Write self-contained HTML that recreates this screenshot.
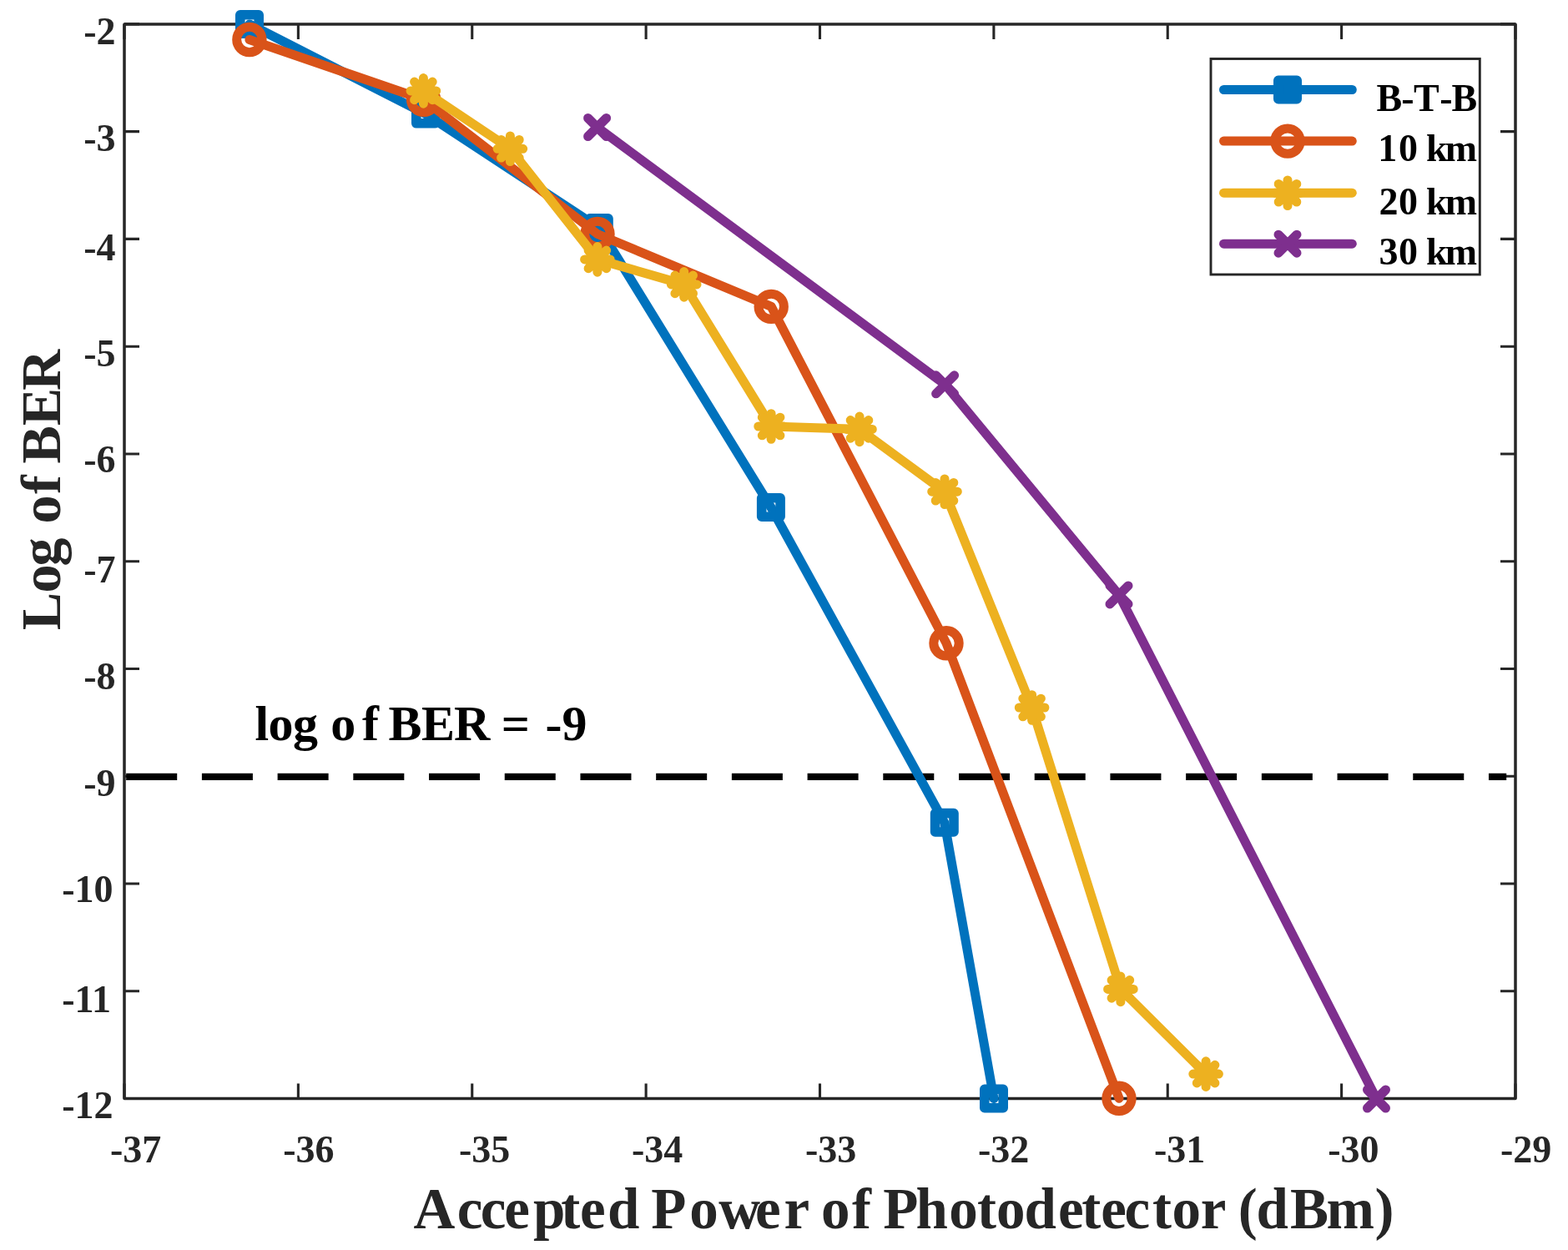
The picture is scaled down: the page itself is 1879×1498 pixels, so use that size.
<!DOCTYPE html>
<html><head><meta charset="utf-8"><title>BER vs Received Power</title>
<style>html,body{margin:0;padding:0;background:#fff;}svg{display:block;}</style>
</head><body>
<svg width="1879" height="1498" viewBox="0 0 1879 1498">
<rect x="0" y="0" width="1879" height="1498" fill="#ffffff"/>
<path d="M149.00 1316.50V1298.50M149.00 28.90V46.90M357.38 1316.50V1298.50M357.38 28.90V46.90M565.75 1316.50V1298.50M565.75 28.90V46.90M774.12 1316.50V1298.50M774.12 28.90V46.90M982.50 1316.50V1298.50M982.50 28.90V46.90M1190.88 1316.50V1298.50M1190.88 28.90V46.90M1399.25 1316.50V1298.50M1399.25 28.90V46.90M1607.62 1316.50V1298.50M1607.62 28.90V46.90M1816.00 1316.50V1298.50M1816.00 28.90V46.90M149.00 28.90H167.00M1816.00 28.90H1798.00M149.00 157.66H167.00M1816.00 157.66H1798.00M149.00 286.42H167.00M1816.00 286.42H1798.00M149.00 415.18H167.00M1816.00 415.18H1798.00M149.00 543.94H167.00M1816.00 543.94H1798.00M149.00 672.70H167.00M1816.00 672.70H1798.00M149.00 801.46H167.00M1816.00 801.46H1798.00M149.00 930.22H167.00M1816.00 930.22H1798.00M149.00 1058.98H167.00M1816.00 1058.98H1798.00M149.00 1187.74H167.00M1816.00 1187.74H1798.00M149.00 1316.50H167.00M1816.00 1316.50H1798.00" stroke="#262626" stroke-width="3.1" fill="none" stroke-linecap="butt"/>
<rect x="149.0" y="28.9" width="1667.0" height="1287.6" fill="none" stroke="#262626" stroke-width="3.5" stroke-linejoin="round"/>
<line x1="151.2" y1="930.8" x2="1805.2" y2="930.8" stroke="#000" stroke-width="8.3" stroke-dasharray="61 29.71" stroke-linecap="butt"/>
<path d="M299.0 29.0L510.0 136.6L717.8 273.0L923.9 608.0L1131.8 985.8L1191.0 1316.5" stroke="#0072BD" stroke-width="11" fill="none" stroke-linejoin="round" stroke-linecap="round"/>
<rect x="287.8" y="17.8" width="22.4" height="22.4" fill="none" stroke="#0072BD" stroke-width="11.6" stroke-linejoin="round"/>
<rect x="498.8" y="125.4" width="22.4" height="22.4" fill="none" stroke="#0072BD" stroke-width="11.6" stroke-linejoin="round"/>
<rect x="706.6" y="261.8" width="22.4" height="22.4" fill="none" stroke="#0072BD" stroke-width="11.6" stroke-linejoin="round"/>
<rect x="912.7" y="596.8" width="22.4" height="22.4" fill="none" stroke="#0072BD" stroke-width="11.6" stroke-linejoin="round"/>
<rect x="1120.6" y="974.6" width="22.4" height="22.4" fill="none" stroke="#0072BD" stroke-width="11.6" stroke-linejoin="round"/>
<rect x="1179.8" y="1305.3" width="22.4" height="22.4" fill="none" stroke="#0072BD" stroke-width="11.6" stroke-linejoin="round"/>
<path d="M298.9 47.5L507.6 119.3L716.0 280.5L924.2 367.4L1134.0 770.8L1341.0 1316.3" stroke="#D95319" stroke-width="11" fill="none" stroke-linejoin="round" stroke-linecap="round"/>
<circle cx="298.9" cy="47.5" r="15.2" fill="none" stroke="#D95319" stroke-width="11"/>
<circle cx="507.6" cy="119.3" r="15.2" fill="none" stroke="#D95319" stroke-width="11"/>
<circle cx="716.0" cy="280.5" r="15.2" fill="none" stroke="#D95319" stroke-width="11"/>
<circle cx="924.2" cy="367.4" r="15.2" fill="none" stroke="#D95319" stroke-width="11"/>
<circle cx="1134.0" cy="770.8" r="15.2" fill="none" stroke="#D95319" stroke-width="11"/>
<circle cx="1341.0" cy="1316.3" r="15.2" fill="none" stroke="#D95319" stroke-width="11"/>
<path d="M507.4 108.9L611.4 178.3L715.9 310.9L819.7 340.9L924.1 511.0L1030.0 514.4L1132.0 589.2L1236.6 848.0L1342.9 1185.4L1445.1 1287.1" stroke="#EDB120" stroke-width="11" fill="none" stroke-linejoin="round" stroke-linecap="round"/>
<path d="M492.1 108.9H522.7M507.4 93.6V124.2M496.6 98.1L518.2 119.7M496.6 119.7L518.2 98.1" stroke="#EDB120" stroke-width="11" fill="none" stroke-linecap="round"/>
<path d="M596.1 178.3H626.7M611.4 163.0V193.6M600.6 167.5L622.2 189.1M600.6 189.1L622.2 167.5" stroke="#EDB120" stroke-width="11" fill="none" stroke-linecap="round"/>
<path d="M700.6 310.9H731.2M715.9 295.6V326.2M705.1 300.1L726.7 321.7M705.1 321.7L726.7 300.1" stroke="#EDB120" stroke-width="11" fill="none" stroke-linecap="round"/>
<path d="M804.4 340.9H835.0M819.7 325.6V356.2M808.9 330.1L830.5 351.7M808.9 351.7L830.5 330.1" stroke="#EDB120" stroke-width="11" fill="none" stroke-linecap="round"/>
<path d="M908.8 511.0H939.4M924.1 495.7V526.3M913.3 500.2L934.9 521.8M913.3 521.8L934.9 500.2" stroke="#EDB120" stroke-width="11" fill="none" stroke-linecap="round"/>
<path d="M1014.7 514.4H1045.3M1030.0 499.1V529.7M1019.2 503.6L1040.8 525.2M1019.2 525.2L1040.8 503.6" stroke="#EDB120" stroke-width="11" fill="none" stroke-linecap="round"/>
<path d="M1116.7 589.2H1147.3M1132.0 573.9V604.5M1121.2 578.4L1142.8 600.0M1121.2 600.0L1142.8 578.4" stroke="#EDB120" stroke-width="11" fill="none" stroke-linecap="round"/>
<path d="M1221.3 848.0H1251.9M1236.6 832.7V863.3M1225.8 837.2L1247.4 858.8M1225.8 858.8L1247.4 837.2" stroke="#EDB120" stroke-width="11" fill="none" stroke-linecap="round"/>
<path d="M1327.6 1185.4H1358.2M1342.9 1170.1V1200.7M1332.1 1174.6L1353.7 1196.2M1332.1 1196.2L1353.7 1174.6" stroke="#EDB120" stroke-width="11" fill="none" stroke-linecap="round"/>
<path d="M1429.8 1287.1H1460.4M1445.1 1271.8V1302.4M1434.3 1276.3L1455.9 1297.9M1434.3 1297.9L1455.9 1276.3" stroke="#EDB120" stroke-width="11" fill="none" stroke-linecap="round"/>
<path d="M715.6 152.5L1132.6 460.8L1341.0 712.9L1649.5 1317.0" stroke="#7E2F8E" stroke-width="11" fill="none" stroke-linejoin="round" stroke-linecap="round"/>
<path d="M704.6 141.5L726.6 163.5M704.6 163.5L726.6 141.5" stroke="#7E2F8E" stroke-width="11" fill="none" stroke-linecap="round"/>
<path d="M1121.6 449.8L1143.6 471.8M1121.6 471.8L1143.6 449.8" stroke="#7E2F8E" stroke-width="11" fill="none" stroke-linecap="round"/>
<path d="M1330.0 701.9L1352.0 723.9M1330.0 723.9L1352.0 701.9" stroke="#7E2F8E" stroke-width="11" fill="none" stroke-linecap="round"/>
<path d="M1638.5 1306.0L1660.5 1328.0M1638.5 1328.0L1660.5 1306.0" stroke="#7E2F8E" stroke-width="11" fill="none" stroke-linecap="round"/>
<rect x="1451" y="70.5" width="322.29999999999995" height="258.5" fill="#fff" stroke="#262626" stroke-width="2.9"/>
<path d="M1466.5 107.5H1620.3" stroke="#0072BD" stroke-width="11" stroke-linecap="round"/>
<rect x="1531.8" y="96.3" width="22.4" height="22.4" fill="none" stroke="#0072BD" stroke-width="11.6" stroke-linejoin="round"/>
<path d="M1466.5 169.1H1620.3" stroke="#D95319" stroke-width="11" stroke-linecap="round"/>
<circle cx="1543.0" cy="169.1" r="15.2" fill="none" stroke="#D95319" stroke-width="11"/>
<path d="M1466.5 231.2H1620.3" stroke="#EDB120" stroke-width="11" stroke-linecap="round"/>
<path d="M1527.7 231.2H1558.3M1543.0 215.9V246.5M1532.2 220.4L1553.8 242.0M1532.2 242.0L1553.8 220.4" stroke="#EDB120" stroke-width="11" fill="none" stroke-linecap="round"/>
<path d="M1466.5 292.2H1620.3" stroke="#7E2F8E" stroke-width="11" stroke-linecap="round"/>
<path d="M1532.0 281.2L1554.0 303.2M1532.0 303.2L1554.0 281.2" stroke="#7E2F8E" stroke-width="11" fill="none" stroke-linecap="round"/>
<text x="100.3" y="52.8" font-family="'Liberation Serif', 'Times New Roman', serif" font-weight="bold" font-size="46" fill="#262626">-2</text>
<text x="100.3" y="180.6" font-family="'Liberation Serif', 'Times New Roman', serif" font-weight="bold" font-size="46" fill="#262626">-3</text>
<text x="100.3" y="312.3" font-family="'Liberation Serif', 'Times New Roman', serif" font-weight="bold" font-size="46" fill="#262626">-4</text>
<text x="100.3" y="439.4" font-family="'Liberation Serif', 'Times New Roman', serif" font-weight="bold" font-size="46" fill="#262626">-5</text>
<text x="100.3" y="566.2" font-family="'Liberation Serif', 'Times New Roman', serif" font-weight="bold" font-size="46" fill="#262626">-6</text>
<text x="100.3" y="698" font-family="'Liberation Serif', 'Times New Roman', serif" font-weight="bold" font-size="46" fill="#262626">-7</text>
<text x="100.3" y="825.5" font-family="'Liberation Serif', 'Times New Roman', serif" font-weight="bold" font-size="46" fill="#262626">-8</text>
<text x="100.3" y="953.6" font-family="'Liberation Serif', 'Times New Roman', serif" font-weight="bold" font-size="46" fill="#262626">-9</text>
<text x="74.3" y="1081.3" font-family="'Liberation Serif', 'Times New Roman', serif" font-weight="bold" font-size="46" fill="#262626">-10</text>
<text x="74.3" y="1212.9" font-family="'Liberation Serif', 'Times New Roman', serif" font-weight="bold" font-size="46" fill="#262626">-11</text>
<text x="74.3" y="1340" font-family="'Liberation Serif', 'Times New Roman', serif" font-weight="bold" font-size="46" fill="#262626">-12</text>
<text x="132.0" y="1392.8" font-family="'Liberation Serif', 'Times New Roman', serif" font-weight="bold" font-size="46" fill="#262626">-37</text>
<text x="339.3" y="1392.8" font-family="'Liberation Serif', 'Times New Roman', serif" font-weight="bold" font-size="46" fill="#262626">-36</text>
<text x="549.9" y="1392.8" font-family="'Liberation Serif', 'Times New Roman', serif" font-weight="bold" font-size="46" fill="#262626">-35</text>
<text x="756.9" y="1392.8" font-family="'Liberation Serif', 'Times New Roman', serif" font-weight="bold" font-size="46" fill="#262626">-34</text>
<text x="965.0" y="1392.8" font-family="'Liberation Serif', 'Times New Roman', serif" font-weight="bold" font-size="46" fill="#262626">-33</text>
<text x="1172.0" y="1392.8" font-family="'Liberation Serif', 'Times New Roman', serif" font-weight="bold" font-size="46" fill="#262626">-32</text>
<text x="1382.9" y="1392.8" font-family="'Liberation Serif', 'Times New Roman', serif" font-weight="bold" font-size="46" fill="#262626">-31</text>
<text x="1591.3" y="1392.8" font-family="'Liberation Serif', 'Times New Roman', serif" font-weight="bold" font-size="46" fill="#262626">-30</text>
<text x="1798.0" y="1392.8" font-family="'Liberation Serif', 'Times New Roman', serif" font-weight="bold" font-size="46" fill="#262626">-29</text>
<text y="1472" font-family="'Liberation Serif', 'Times New Roman', serif" font-weight="bold" font-size="69" fill="#262626" ><tspan x="495.4 547.8 575.8 604.2 639.0 672.3 694.9 728.1">Accepted </tspan><tspan x="780.2 826.2 861.3 904.9 939.6">Power </tspan><tspan x="984.1 1020.9">of </tspan><tspan x="1058.2 1097.4 1137.3 1171.1 1194.0 1227.4 1267.9 1296.2 1319.3 1347.4 1381.0 1404.5 1438.7">Photodetector </tspan><tspan x="1483.7 1505.4 1546.0 1589.4 1647.4">(dBm)</tspan></text>
<text y="133.1" font-family="'Liberation Serif', 'Times New Roman', serif" font-weight="bold" font-size="46" fill="#000" ><tspan x="1649.5 1679.3 1694.1 1725.3 1739.5">B-T-B</tspan></text>
<text y="193.2" font-family="'Liberation Serif', 'Times New Roman', serif" font-weight="bold" font-size="46" fill="#000" ><tspan x="1651.2 1676.0">10 </tspan><tspan x="1708.9 1731.8">km</tspan></text>
<text y="256.9" font-family="'Liberation Serif', 'Times New Roman', serif" font-weight="bold" font-size="46" fill="#000" ><tspan x="1652.5 1676.0">20 </tspan><tspan x="1708.9 1731.8">km</tspan></text>
<text y="316.5" font-family="'Liberation Serif', 'Times New Roman', serif" font-weight="bold" font-size="46" fill="#000" ><tspan x="1652.4 1676.0">30 </tspan><tspan x="1708.9 1731.8">km</tspan></text>
<text y="71.8" font-family="'Liberation Serif', 'Times New Roman', serif" font-weight="bold" font-size="68" fill="#262626" transform="rotate(-90)"><tspan x="-755.2 -710.4 -678.4">Log </tspan><tspan x="-627.4 -591.9">of </tspan><tspan x="-555.5 -510.3 -468.0">BER</tspan></text>
<text y="886.8" font-family="'Liberation Serif', 'Times New Roman', serif" font-weight="bold" font-size="60" fill="#000" ><tspan x="305.6 321.4 350.9">log </tspan><tspan x="396.3 434.0">of </tspan><tspan x="465.4 505.0 543.9">BER </tspan><tspan x="600.7">= </tspan><tspan x="653.6 673.4">-9</tspan></text>
</svg>
</body></html>
